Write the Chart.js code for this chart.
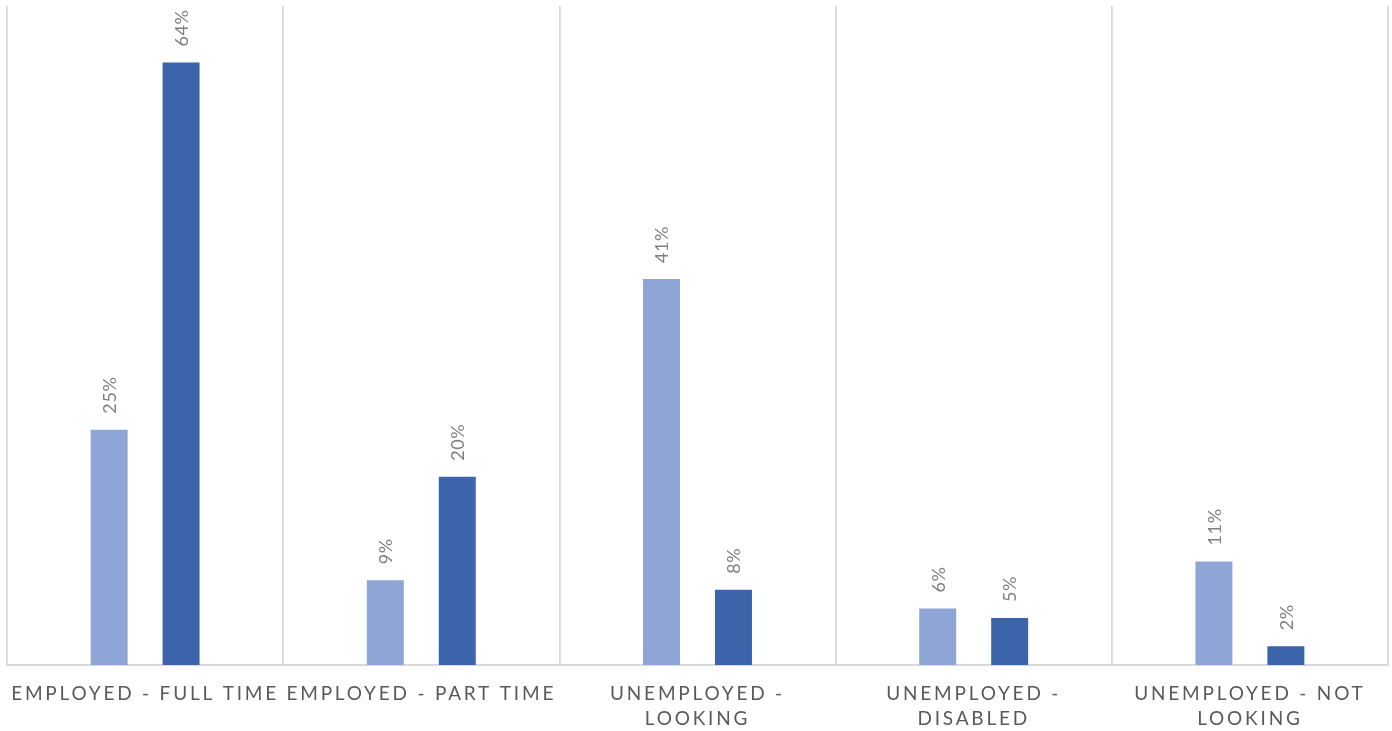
<!DOCTYPE html>
<html>
<head>
<meta charset="utf-8">
<script src="https://cdn.jsdelivr.net/npm/chart.js@4/dist/chart.umd.min.js"></script>
<style>
  html, body { margin: 0; padding: 0; background: #ffffff; }
  #wrap { width: 1392px; height: 731px; position: relative; }
</style>
</head>
<body>
<div id="wrap"><canvas id="chart"></canvas></div>
<script>
// Employment status categories (wrapped lines as drawn under the axis)
const categories = [
  ['EMPLOYED - FULL TIME'],
  ['EMPLOYED - PART TIME'],
  ['UNEMPLOYED -', 'LOOKING'],
  ['UNEMPLOYED -', 'DISABLED'],
  ['UNEMPLOYED - NOT', 'LOOKING']
];

// Percentages per group
const seriesA = [25, 9, 41, 6, 11];
const seriesB = [64, 20, 8, 5, 2];

const colorA = '#8FA5D5';
const colorB = '#3C64AB';
const gridColor = '#D9D9D9';

// Rotated percentage labels above each bar
const barValueLabels = {
  id: 'barValueLabels',
  afterDatasetsDraw(chart) {
    const ctx = chart.ctx;
    ctx.save();
    ctx.letterSpacing = '0.6px';
    ctx.font = '18px Lato, "Open Sans", sans-serif';
    ctx.fillStyle = '#7F7F7F';
    ctx.textAlign = 'left';
    ctx.textBaseline = 'middle';
    chart.data.datasets.forEach((ds, i) => {
      const meta = chart.getDatasetMeta(i);
      meta.data.forEach((bar, j) => {
        ctx.save();
        ctx.translate(bar.x + 1, bar.y - 16);
        ctx.rotate(-Math.PI / 2);
        ctx.fillText(ds.data[j] + '%', 0, 0);
        ctx.restore();
      });
    });
    ctx.restore();
  }
};

// Wide letter spacing for the category axis text
const spacedAxisText = {
  id: 'spacedAxisText',
  beforeDraw(chart) { chart.ctx.letterSpacing = '2.8px'; },
  beforeDatasetsDraw(chart) { chart.ctx.letterSpacing = '0px'; }
};

new Chart(document.getElementById('chart'), {
  type: 'bar',
  data: {
    labels: categories,
    datasets: [
      { label: 'A', data: seriesA, backgroundColor: colorA, categoryPercentage: 0.521, barPercentage: 0.514 },
      { label: 'B', data: seriesB, backgroundColor: colorB, categoryPercentage: 0.521, barPercentage: 0.514 }
    ]
  },
  options: {
    responsive: true,
    maintainAspectRatio: false,
    animation: false,
    layout: { padding: { left: 7, right: 4, top: 6, bottom: 0 } },
    plugins: {
      legend: { display: false },
      tooltip: { enabled: false }
    },
    scales: {
      x: {
        offset: true,
        grid: { offset: true, color: gridColor, lineWidth: 1.8, drawTicks: false },
        border: { display: true, color: gridColor, width: 2 },
        ticks: {
          color: '#595959',
          font: { family: 'Lato, "Open Sans", sans-serif', size: 19, lineHeight: 1.32 },
          padding: 16,
          maxRotation: 0,
          minRotation: 0,
          autoSkip: false
        },
        afterFit(scale) { scale.height = 66; }
      },
      y: {
        display: false,
        min: 0,
        max: 70
      }
    }
  },
  plugins: [barValueLabels, spacedAxisText]
});
</script>
</body>
</html>
